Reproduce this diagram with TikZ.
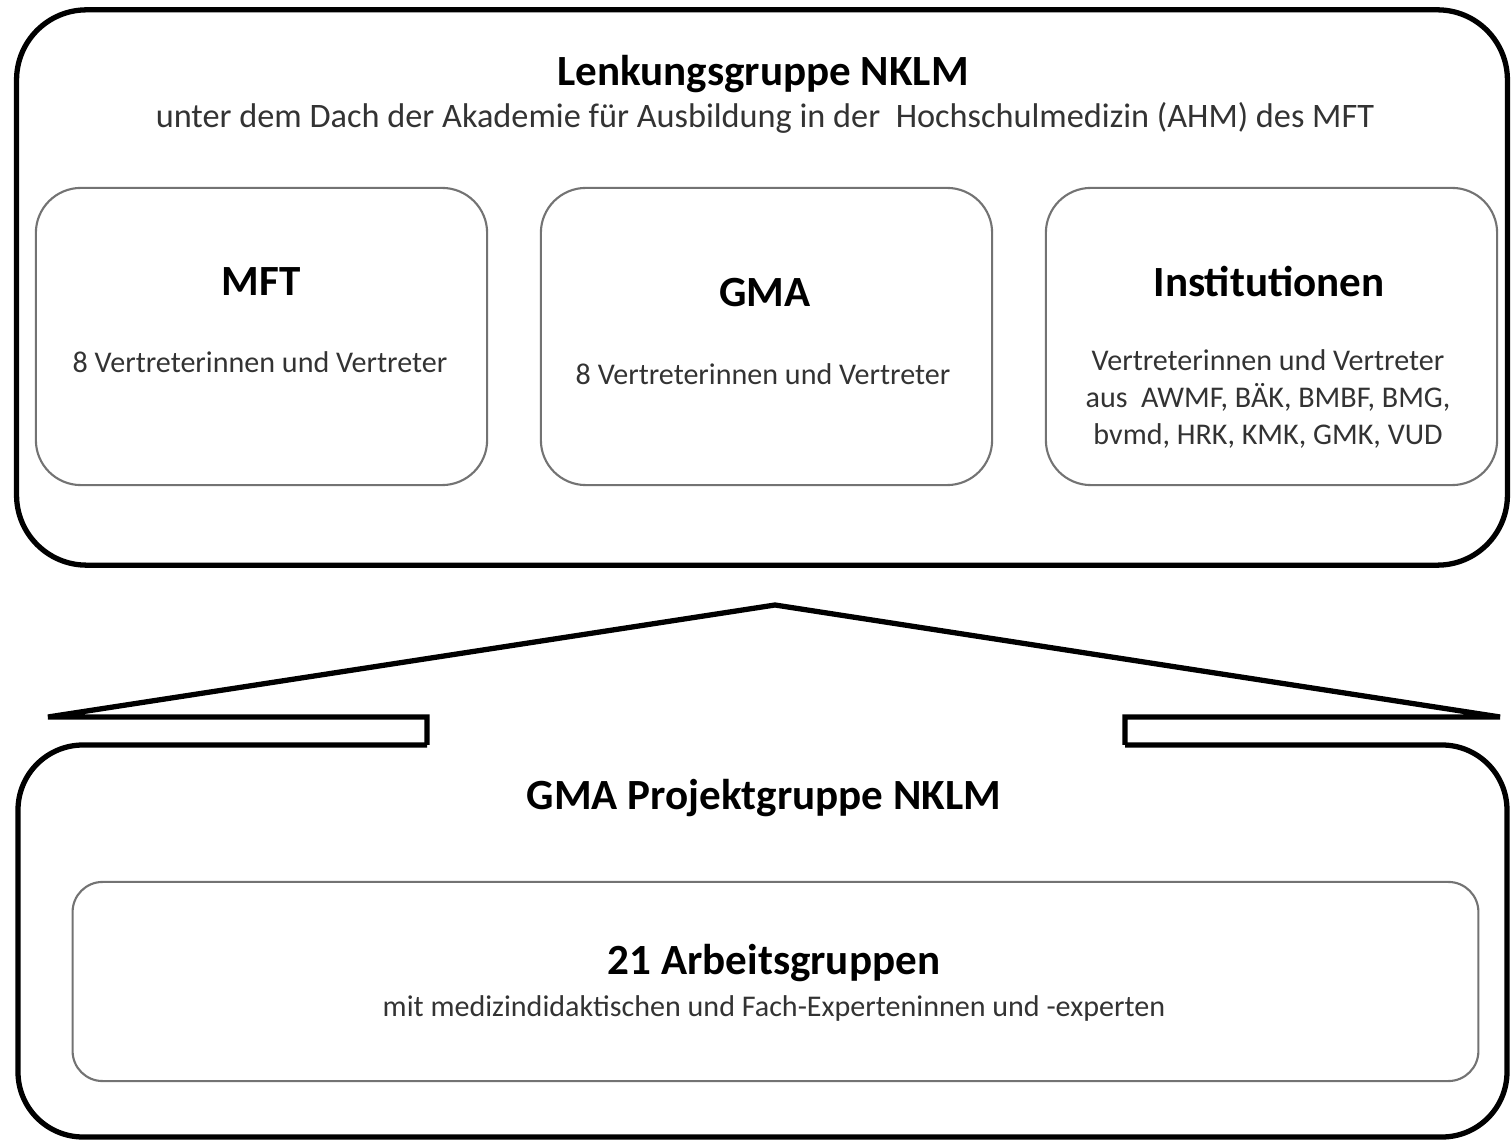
\documentclass[tikz,border=0pt]{standalone}
\usepackage{fontspec}
\setmainfont{Carlito}
\tikzset{
  bigframe/.style={draw=black, line width=1.5pt, rounded corners=0.7cm},
  smallbox/.style={draw=black!55, line width=0.6pt, rounded corners=0.45cm,
    minimum width=4.51cm, minimum height=2.97cm},
  headtxt/.style={font=\fontsize{12.25}{14}\selectfont\bfseries},
  bodytxt/.style={font=\fontsize{8.55}{10.5}\selectfont, text=black!80, align=center},
}
\begin{document}
\begin{tikzpicture}[x=0.01cm,y=-0.01cm,line join=miter]
\useasboundingbox (0,0) rectangle (1511,1140);
% Lenkungsgruppe
\node[bigframe, minimum width=14.9cm, minimum height=5.55cm] (lenkung) at (762,287.5) {};
\node[headtxt] (lenktitle) at (763,74) {Lenkungsgruppe NKLM};
\node[font=\fontsize{9.75}{12}\selectfont, text=black!80] (lenksub) at (765,118)
  {unter dem Dach der Akademie für Ausbildung in der\ \ Hochschulmedizin (AHM) des MFT};
\node[smallbox] (mft) at (261.5,336.5) {};
\node[smallbox] (gma) at (766.5,336.5) {};
\node[smallbox] (inst) at (1271.5,336.5) {};
\node[headtxt] (mfttitle) at (261,282) {MFT};
\node[bodytxt] (mfttext) at (260,362) {8 Vertreterinnen und Vertreter};
\node[headtxt] (gmatitle) at (765,293) {GMA};
\node[bodytxt] (gmatext) at (763,374) {8 Vertreterinnen und Vertreter};
\node[headtxt] (insttitle) at (1269,282) {Institutionen};
\node[bodytxt] (insttext) at (1268,399) {Vertreterinnen und Vertreter\\
  aus\ \ AWMF, BÄK, BMBF, BMG,\\ bvmd, HRK, KMK, GMK, VUD};
% Dach
\draw[line width=1.5pt] (427,745) -- (427,717) -- (48,717) -- (775,605)
  -- (1500,717) -- (1125,717) -- (1125,745);
% Projektgruppe
\draw[bigframe, rounded corners=0.65cm] (427,745) -- (18,745) -- (18,1137)
  -- (1507,1137) -- (1507,745) -- (1125,745);
\node[headtxt] (projtitle) at (764,798) {GMA Projektgruppe NKLM};
\node[draw=black!55, line width=0.6pt, rounded corners=0.3cm,
  minimum width=14.05cm, minimum height=1.99cm] (arbeit) at (775.5,981.5) {};
\node[headtxt] (arbtitle) at (774,963) {21 Arbeitsgruppen};
\node[bodytxt] (arbtext) at (774,1008) {mit medizindidaktischen und Fach-Experteninnen und -experten};
\end{tikzpicture}
\end{document}
